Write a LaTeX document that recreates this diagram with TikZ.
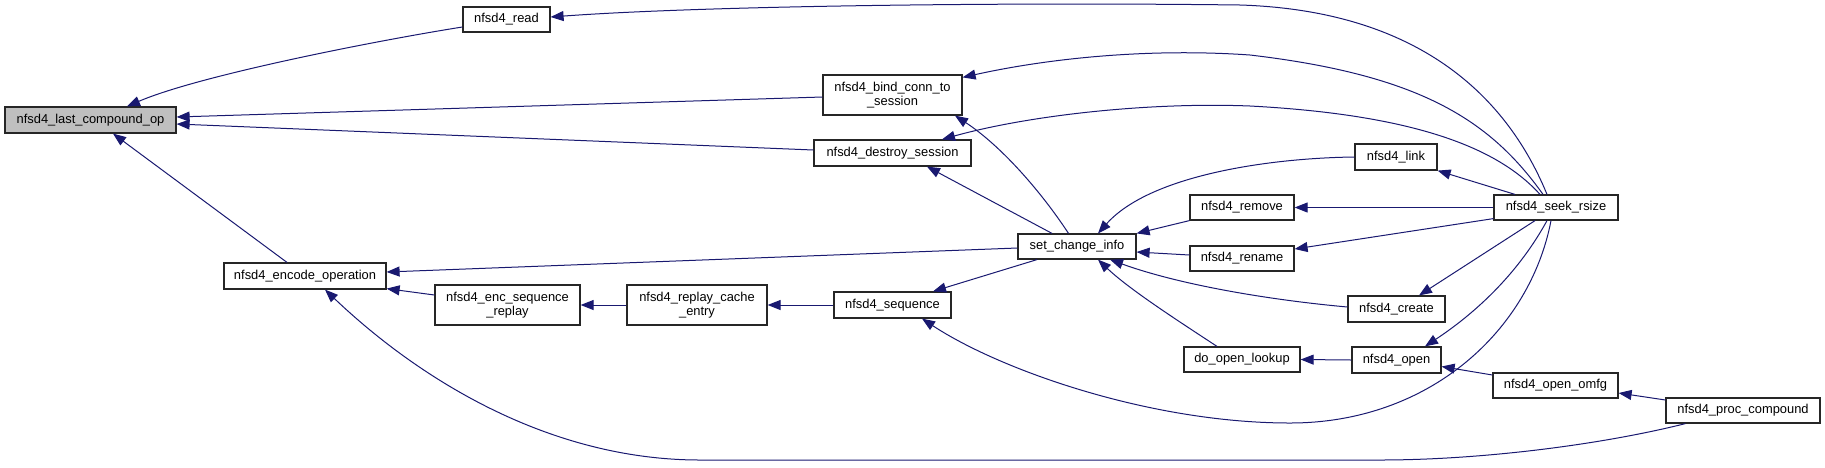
\documentclass[tikz,border=0pt]{standalone}
\usepackage{fontspec}
\setmainfont{Liberation Sans}
\usetikzlibrary{arrows.meta,calc}
\definecolor{edgecol}{HTML}{191970}
\definecolor{hilite}{HTML}{BFBFBF}
\begin{document}
\begin{tikzpicture}[x=1pt,y=-1pt,
  box/.style={draw=black!85,line width=1.2pt,fill=white,inner sep=0pt,align=center,
    font=\fontsize{12.9}{14}\selectfont},
  edge/.style={draw=edgecol,line width=1pt,-{Triangle[length=13pt,width=10pt]}}]
\useasboundingbox (0,0) rectangle (1825,467);
% nodes
\node[box,fill=hilite,minimum width=171pt,minimum height=26pt] (last) at (90.5,120) {nfsd4\_last\_compound\_op};
\node[box,minimum width=87pt,minimum height=25pt] (read) at (506.5,19.5) {nfsd4\_read};
\node[box,minimum width=162pt,minimum height=26pt] (encode) at (305,276) {nfsd4\_encode\_operation};
\node[box,minimum width=145pt,minimum height=40pt] (encseq) at (507.5,305) {nfsd4\_enc\_sequence\\\_replay};
\node[box,minimum width=139pt,minimum height=40pt] (bind) at (892.5,95) {nfsd4\_bind\_conn\_to\\\_session};
\node[box,minimum width=157pt,minimum height=26pt] (destroy) at (892.5,153) {nfsd4\_destroy\_session};
\node[box,minimum width=118pt,minimum height=25pt] (setci) at (1077,246.5) {set\_change\_info};
\node[box,minimum width=140pt,minimum height=40pt] (replay) at (697,305) {nfsd4\_replay\_cache\\\_entry};
\node[box,minimum width=117pt,minimum height=26pt] (sequence) at (892.5,305) {nfsd4\_sequence};
\node[box,minimum width=82pt,minimum height=26pt] (link) at (1396,157) {nfsd4\_link};
\node[box,minimum width=104pt,minimum height=25pt] (remove) at (1242,207.5) {nfsd4\_remove};
\node[box,minimum width=104pt,minimum height=25pt] (rename) at (1242,258.5) {nfsd4\_rename};
\node[box,minimum width=97pt,minimum height=26pt] (create) at (1396.5,309) {nfsd4\_create};
\node[box,minimum width=116pt,minimum height=25pt] (doopen) at (1242,359.5) {do\_open\_lookup};
\node[box,minimum width=89pt,minimum height=26pt] (open) at (1396.5,360) {nfsd4\_open};
\node[box,minimum width=124pt,minimum height=25pt] (seek) at (1556,207.5) {nfsd4\_seek\_rsize};
\node[box,minimum width=125pt,minimum height=25pt] (omfg) at (1555.5,385.5) {nfsd4\_open\_omfg};
\node[box,minimum width=154pt,minimum height=25pt] (proc) at (1743,410.5) {nfsd4\_proc\_compound};
% edges
\draw[edge] ($(read.west)+(0,7.5)$) .. controls (380,40) and (200,75) .. ($(last.north)+(36.5,0)$);
\draw[edge] ($(bind.west)+(0,2)$) -- ($(last.east)+(0,-3)$);
\draw[edge] ($(destroy.west)+(0,-3)$) -- ($(last.east)+(0,4)$);
\draw[edge] ($(encode.north)+(-18,0)$) -- ($(last.south)+(22.5,0)$);
\draw[edge] ($(seek.north)+(-9,0)$) .. controls (1500,80) and (1400,10) .. (1240,5)
  .. controls (1000,2) and (700,6) .. ($(read.east)+(0,-2.5)$);
\draw[edge] ($(seek.north)+(-13,0)$) .. controls (1490,120) and (1420,75) .. (1250,55)
  .. controls (1150,48) and (1050,58) .. ($(bind.north east)+(0,3)$);
\draw[edge] ($(seek.north)+(-16,0)$) .. controls (1500,150) and (1420,115) .. (1250,106)
  .. controls (1150,102) and (1030,115) .. ($(destroy.north)+(49.5,0)$);
\draw[edge] ($(setci.north)+(-8.5,0)$) .. controls (1040,190) and (1000,145) .. ($(bind.south)+(62.5,0)$);
\draw[edge] ($(setci.north)+(-25,0)$) -- ($(destroy.south)+(34.5,0)$);
\draw[edge] (link.west) .. controls (1270,158) and (1150,175) .. ($(setci.north)+(21,0)$);
\draw[edge] (remove.south west) -- (setci.north east);
\draw[edge] ($(rename.west)+(0,-3.5)$) -- ($(setci.east)+(0,5.5)$);
\draw[edge] ($(create.west)+(0,-2)$) .. controls (1270,300) and (1180,285) .. ($(setci.south)+(33,0)$);
\draw[edge] ($(doopen.north)+(-25,0)$) .. controls (1180,322) and (1130,290) .. ($(setci.south)+(21,0)$);
\draw[edge] ($(setci.west)+(0,1.5)$) -- ($(encode.east)+(0,-4)$);
\draw[edge] ($(setci.south)+(-40,0)$) -- ($(sequence.north)+(40.5,0)$);
\draw[edge] (sequence.west) -- (replay.east);
\draw[edge] (replay.west) -- (encseq.east);
\draw[edge] ($(encseq.west)+(0,-10)$) -- ($(encode.south east)+(0,-1)$);
\draw[edge] ($(seek.south)+(-5,0)$) .. controls (1530,330) and (1430,423) .. (1290,423)
  .. controls (1150,423) and (1000,370) .. ($(sequence.south)+(29.5,0)$);
\draw[edge] ($(proc.south west)+(20,0)$) .. controls (1600,445) and (1480,460) .. (1380,460)
  -- (700,460) .. controls (550,460) and (420,380) .. ($(encode.south)+(20,0)$);
\draw[edge] ($(seek.north)+(-41,0)$) -- (link.south east);
\draw[edge] (seek.west) -- (remove.east);
\draw[edge] ($(seek.south west)+(0,-2)$) -- ($(rename.east)+(0,-9.5)$);
\draw[edge] ($(seek.south)+(-21,0)$) -- ($(create.north)+(22.5,0)$);
\draw[edge] ($(seek.south)+(-9,0)$) .. controls (1520,270) and (1480,310) .. ($(open.north)+(28.5,0)$);
\draw[edge] (open.west) -- (doopen.east);
\draw[edge] ($(omfg.west)+(0,-10.5)$) -- ($(open.east)+(0,6.5)$);
\draw[edge] ($(proc.west)+(0,-10.5)$) -- ($(omfg.east)+(0,7.5)$);
\end{tikzpicture}
\end{document}
